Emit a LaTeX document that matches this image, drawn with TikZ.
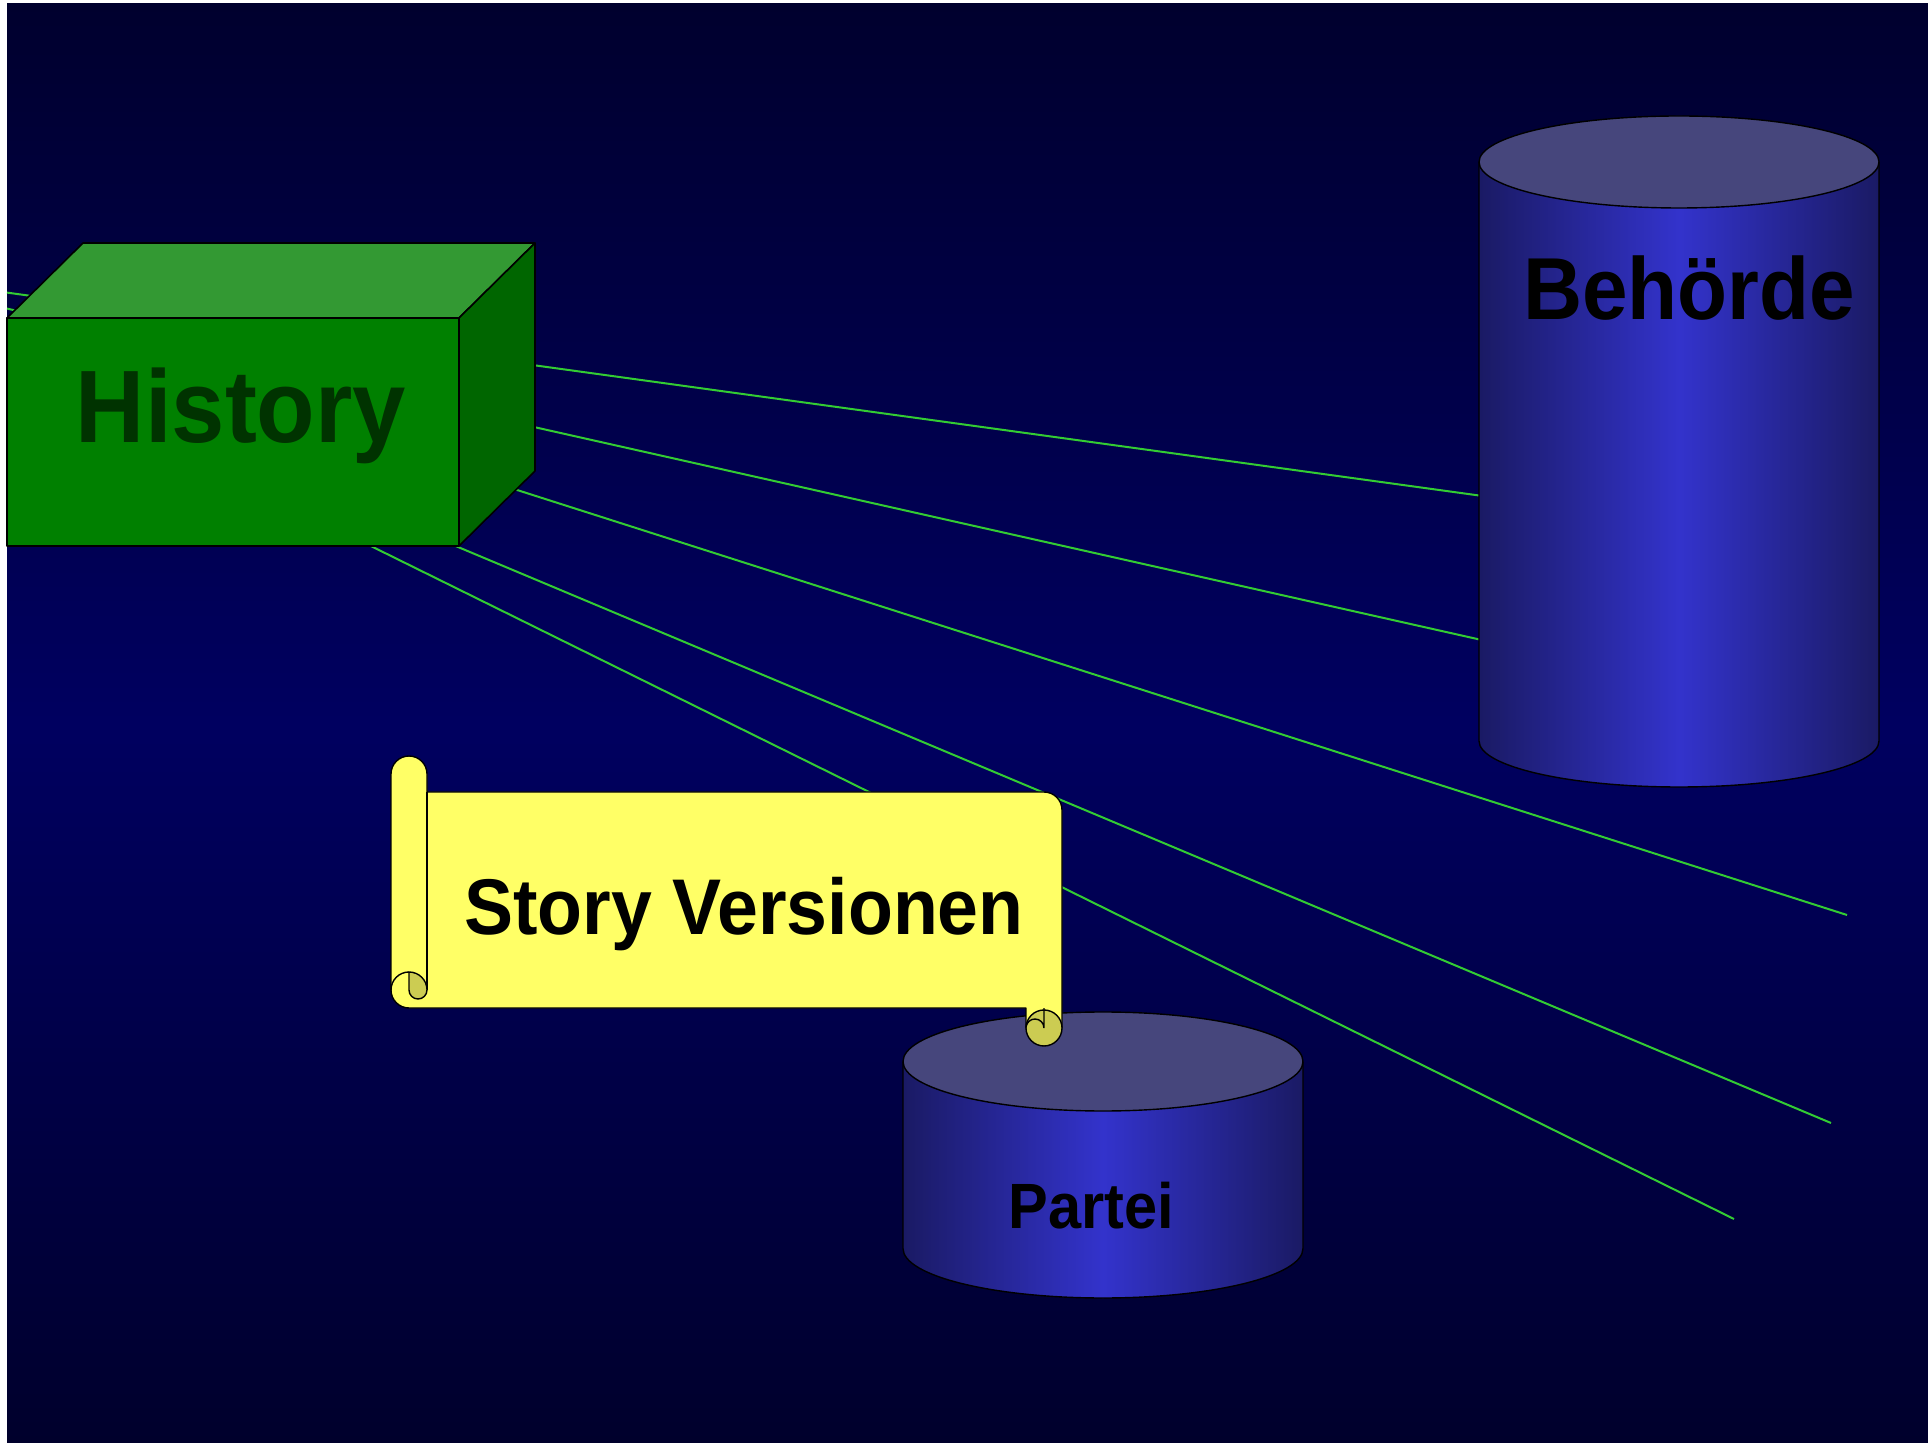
\documentclass[tikz,border=0pt]{standalone}
\usepackage{fontspec}
\newfontfamily\hvfont[FakeStretch=0.93]{Liberation Sans}
\definecolor{bgtop}{RGB}{0,0,46}
\definecolor{bgmid}{RGB}{0,0,96}
\definecolor{bgbot}{RGB}{0,0,44}
\definecolor{rayc}{RGB}{51,204,51}
\definecolor{boxfront}{RGB}{0,128,0}
\definecolor{boxtop}{RGB}{51,153,51}
\definecolor{boxside}{RGB}{0,102,0}
\definecolor{histtext}{RGB}{0,51,0}
\definecolor{cyltop}{RGB}{70,70,124}
\definecolor{cyledge}{RGB}{26,26,100}
\definecolor{cylmid}{RGB}{51,51,204}
\definecolor{paper}{RGB}{255,255,102}
\definecolor{paperdark}{RGB}{204,204,82}
\begin{document}
\begin{tikzpicture}[x=0.5pt,y=0.5pt,
  ray/.style={draw=rayc,line width=1pt},
  boxface/.style={draw=black,line width=0.8pt,line join=round},
  cylbody/.style={left color=cyledge,right color=cyledge,middle color=cylmid},
  cylline/.style={draw=black,line width=0.7pt},
  paperface/.style={fill=paper,draw=black,line width=0.7pt,line join=round},
  curlface/.style={fill=paperdark,draw=black,line width=0.7pt,line join=round},
  lbl/.style={inner sep=0pt,anchor=base}
]
\useasboundingbox (0,0) rectangle (1928,1442);
\fill[white] (0,0) rectangle (1928,1442);
\shade[top color=bgtop,bottom color=bgbot,middle color=bgmid] (7,0) rectangle (1928,1438);

% rays
\coordinate (r1a) at (7,1149.4);  \coordinate (r1b) at (1479,946.5);
\coordinate (r2a) at (7,1133.4);  \coordinate (r2b) at (1479,802.6);
\coordinate (r3a) at (7,1115.0);  \coordinate (r3b) at (1847,527);
\coordinate (r4a) at (7,1084.2);  \coordinate (r4b) at (1831,319);
\coordinate (r5a) at (7,1075.6);  \coordinate (r5b) at (1734,223);
\draw[ray] (r1a) -- (r1b);
\draw[ray] (r2a) -- (r2b);
\draw[ray] (r3a) -- (r3b);
\draw[ray] (r4a) -- (r4b);
\draw[ray] (r5a) -- (r5b);

% History box
\filldraw[boxface,fill=boxfront] (7,896) rectangle (459,1124);
\filldraw[boxface,fill=boxtop] (7,1124) -- (83,1199) -- (535,1199) -- (459,1124) -- cycle;
\filldraw[boxface,fill=boxside] (459,1124) -- (535,1199) -- (535,971) -- (459,896) -- cycle;
\node[lbl,text=histtext,font=\hvfont\bfseries\fontsize{51.5}{60}\selectfont] (history) at (241,999) {History};

% Behoerde cylinder
\shade[cylbody] (1479,1280) -- (1479,701) arc[start angle=180,end angle=360,x radius=100pt,y radius=23pt] -- (1879,1280) -- cycle;
\draw[cylline] (1479,1280) -- (1479,701) arc[start angle=180,end angle=360,x radius=100pt,y radius=23pt] -- (1879,1280);
\filldraw[cylline,fill=cyltop] (1679,1280) ellipse[x radius=100pt,y radius=23pt];
\node[lbl,font=\hvfont\bfseries\fontsize{44}{52}\selectfont] (behoerde) at (1689,1122) {Behörde};

% Partei cylinder
\shade[cylbody] (903,380.5) -- (903,193.5) arc[start angle=180,end angle=360,x radius=100pt,y radius=24.75pt] -- (1303,380.5) -- cycle;
\draw[cylline] (903,380.5) -- (903,193.5) arc[start angle=180,end angle=360,x radius=100pt,y radius=24.75pt] -- (1303,380.5);
\filldraw[cylline,fill=cyltop] (1103,380.5) ellipse[x radius=100pt,y radius=24.75pt];
\node[lbl,font=\hvfont\bfseries\fontsize{32}{38}\selectfont] (partei) at (1091.5,214) {Partei};

% Scroll
\filldraw[paperface] (391,668) arc[start angle=180,end angle=0,radius=9pt] -- (427,650) -- (1044,650)
  arc[start angle=90,end angle=0,radius=9pt] -- (1062,414) -- (1026,414) -- (1026,434) -- (409,434)
  arc[start angle=270,end angle=180,radius=9pt] -- cycle;
\draw[black,line width=0.7pt] (427,650) -- (427,452);
\filldraw[curlface] (409,470) arc[start angle=90,end angle=0,radius=9pt] arc[start angle=0,end angle=-180,radius=4.5pt] -- cycle;
\draw[black,line width=0.7pt] (409,470) arc[start angle=90,end angle=180,radius=9pt];
\filldraw[curlface] (1044,414) circle[radius=9pt];
\draw[black,line width=0.7pt] (1044,434) -- (1044,414) arc[start angle=0,end angle=170,radius=4.5pt];
\node[lbl,font=\hvfont\bfseries\fontsize{39.5}{46}\selectfont] (story) at (744,507.5) {Story Versionen};
\end{tikzpicture}
\end{document}
